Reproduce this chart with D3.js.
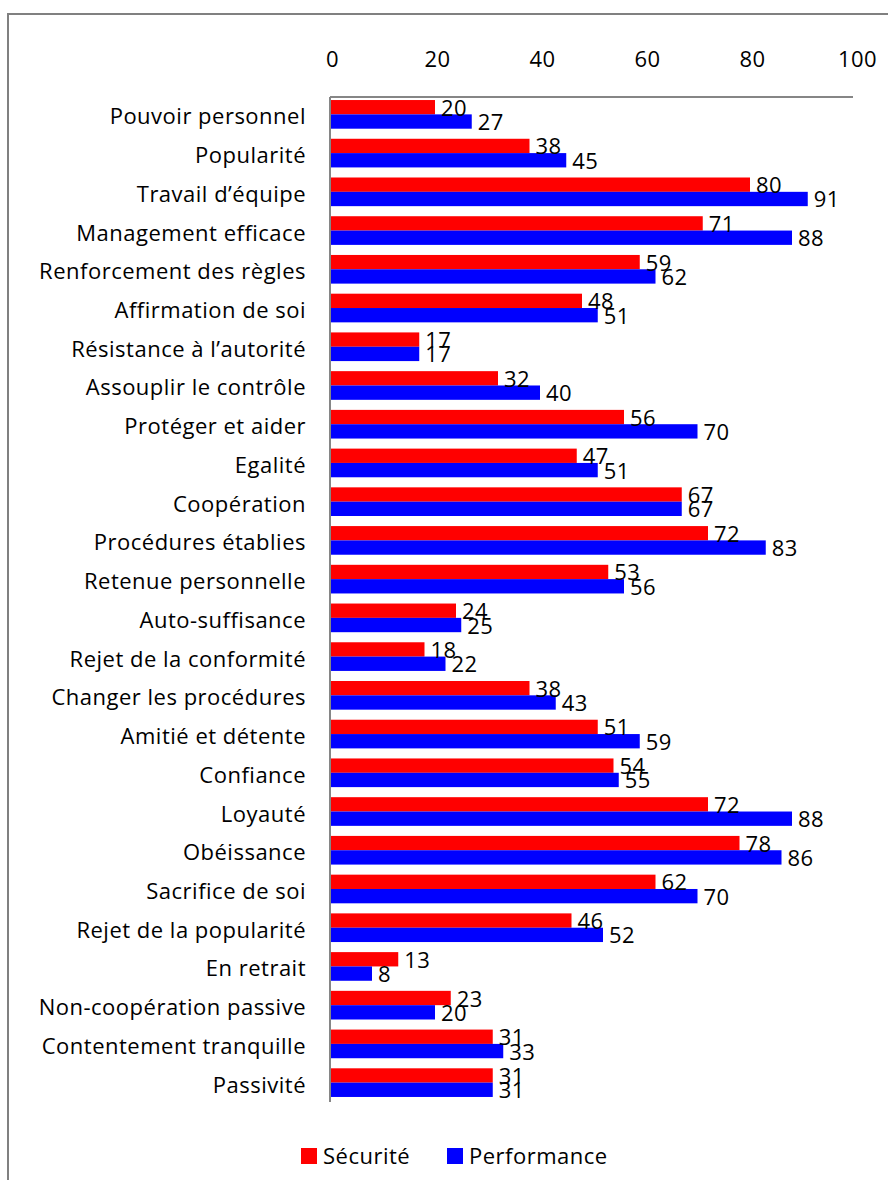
<!DOCTYPE html>
<html>
<head>
<meta charset="utf-8">
<script src="https://cdn.jsdelivr.net/npm/d3@7"></script>
<style>
  html, body { margin: 0; padding: 0; background: #fff; }
  svg { display: block; }
  text { font-family: "Open Sans", sans-serif; fill: #000; }
</style>
</head>
<body>
<svg id="chart" width="888" height="1180"></svg>
<script>
// Values held by each group, on a 0–100 scale
const categories = [
  "Pouvoir personnel", "Popularité", "Travail d’équipe", "Management efficace",
  "Renforcement des règles", "Affirmation de soi", "Résistance à l’autorité",
  "Assouplir le contrôle", "Protéger et aider", "Egalité", "Coopération",
  "Procédures établies", "Retenue personnelle", "Auto-suffisance",
  "Rejet de la conformité", "Changer les procédures", "Amitié et détente",
  "Confiance", "Loyauté", "Obéissance", "Sacrifice de soi",
  "Rejet de la popularité", "En retrait", "Non-coopération passive",
  "Contentement tranquille", "Passivité"
];
const securite = [20, 38, 80, 71, 59, 48, 17, 32, 56, 47, 67, 72, 53, 24, 18, 38, 51, 54, 72, 78, 62, 46, 13, 23, 31, 31];
const performance = [27, 45, 91, 88, 62, 51, 17, 40, 70, 51, 67, 83, 56, 25, 22, 43, 59, 55, 88, 86, 70, 52, 8, 20, 33, 31];
const seriesNames = ["Sécurité", "Performance"];
const seriesColors = ["#FF0000", "#0000FF"];
const tickValues = [0, 20, 40, 60, 80, 100];

const svg = d3.select("#chart");
const FONT = 22;
const SPACING = "0.5px";

// Chart frame
svg.append("rect")
  .attr("x", 8).attr("y", 14)
  .attr("width", 1000).attr("height", 1300)
  .attr("fill", "none").attr("stroke", "#808080").attr("stroke-width", 2);

const plotTop = 97, plotBottom = 1102;
const x = d3.scaleLinear().domain([0, 100]).range([330, 855]);
const y = d3.scaleBand().domain(categories).range([95, 1102])
  .paddingInner(0.26).paddingOuter(0.13);
const ySub = d3.scaleBand().domain(seriesNames).range([0, y.bandwidth()]);

const rows = categories.map((c, i) => ({ cat: c, vals: [securite[i], performance[i]] }));

// Bars
const groups = svg.append("g").selectAll("g.row")
  .data(rows).join("g")
  .attr("class", "row")
  .attr("transform", d => `translate(0,${y(d.cat)})`);

groups.selectAll("rect")
  .data(d => d.vals.map((v, k) => ({ v, k })))
  .join("rect")
  .attr("x", x(0))
  .attr("y", d => ySub(seriesNames[d.k]))
  .attr("width", d => x(d.v) - x(0))
  .attr("height", ySub.bandwidth())
  .attr("fill", d => seriesColors[d.k]);

// Value labels
groups.selectAll("text.val")
  .data(d => d.vals.map((v, k) => ({ v, k })))
  .join("text")
  .attr("class", "val")
  .attr("x", d => x(d.v) + 6)
  .attr("y", d => ySub(seriesNames[d.k]) + ySub.bandwidth() / 2 + 8.5)
  .attr("font-size", FONT)
  .attr("letter-spacing", SPACING)
  .text(d => d.v);

// Axis lines
svg.append("line")
  .attr("x1", x(0)).attr("x2", 853)
  .attr("y1", plotTop).attr("y2", plotTop)
  .attr("stroke", "#868686").attr("stroke-width", 2);
svg.append("line")
  .attr("x1", x(0)).attr("x2", x(0))
  .attr("y1", plotTop).attr("y2", plotBottom)
  .attr("stroke", "#868686").attr("stroke-width", 2);

// Tick labels along the top
const axis = svg.append("g")
  .attr("transform", "translate(2,67)")
  .call(d3.axisTop(x).tickValues(tickValues).tickSize(0).tickPadding(0));
axis.select(".domain").remove();
axis.selectAll("text")
  .attr("font-size", FONT)
  .attr("letter-spacing", SPACING)
  .attr("font-family", "Open Sans, sans-serif")
  .attr("fill", "#000");

// Category labels
svg.append("g").selectAll("text")
  .data(categories).join("text")
  .attr("x", 306)
  .attr("y", d => y(d) + y.bandwidth() / 2 + 10)
  .attr("text-anchor", "end")
  .attr("font-size", FONT)
  .attr("letter-spacing", SPACING)
  .text(d => d);

// Legend
const legendX = [301, 447];
const legend = svg.append("g").selectAll("g")
  .data(seriesNames).join("g")
  .attr("transform", (d, i) => `translate(${legendX[i]},1148)`);
legend.append("rect")
  .attr("width", 16).attr("height", 16)
  .attr("fill", (d, i) => seriesColors[i]);
legend.append("text")
  .attr("x", 22).attr("y", 15.5)
  .attr("font-size", FONT)
  .attr("letter-spacing", SPACING)
  .text(d => d);
</script>
</body>
</html>
